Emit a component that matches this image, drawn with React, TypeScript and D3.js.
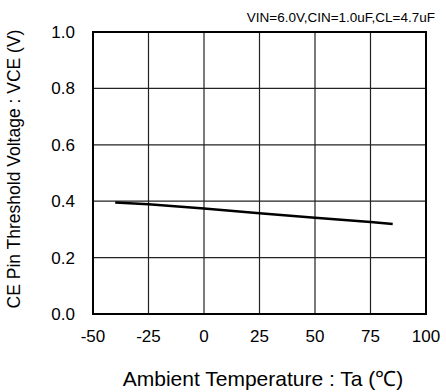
import React from "react";
import * as d3 from "d3";

const temperatures = [-40, -25, 0, 25, 50, 75, 85];
const vceValues = [0.395, 0.389, 0.374, 0.357, 0.341, 0.326, 0.319];
const xTicks = [-50, -25, 0, 25, 50, 75, 100];
const yTicks = [0, 0.2, 0.4, 0.6, 0.8, 1.0];
const conditionText = "VIN=6.0V,CIN=1.0uF,CL=4.7uF";
const xTitle = "Ambient Temperature : Ta (℃)";
const yTitle = "CE Pin Threshold Voltage : VCE (V)";

export default function App() {
  const W = 446, H = 392;
  const left = 93, right = 426, top = 32, bottom = 314;
  const x = d3.scaleLinear().domain([-50, 100]).range([left, right]);
  const y = d3.scaleLinear().domain([0, 1]).range([bottom, top]);
  const line = d3
    .line<number>()
    .x((_, i) => x(temperatures[i]))
    .y((d) => y(d));
  const font = "'Liberation Sans', Arial, sans-serif";
  return (
    <svg
      width={W}
      height={H}
      style={{ position: "absolute", left: 0, top: 0, background: "#fff" }}
      fontFamily={font}
    >
      <rect width={W} height={H} fill="#fff" />
      {xTicks.slice(1, -1).map((t) => (
        <line key={"gx" + t} x1={x(t)} x2={x(t)} y1={top} y2={bottom} stroke="#222" strokeWidth={1.2} />
      ))}
      {yTicks.slice(1, -1).map((t) => (
        <line key={"gy" + t} x1={left} x2={right} y1={y(t)} y2={y(t)} stroke="#222" strokeWidth={1.2} />
      ))}
      <rect x={left} y={top} width={right - left} height={bottom - top} fill="none" stroke="#000" strokeWidth={2} />
      <path d={line(vceValues) || ""} fill="none" stroke="#000" strokeWidth={2.5} />
      {xTicks.map((t) => (
        <text key={"tx" + t} x={x(t)} y={342} textAnchor="middle" fontSize={17} fill="#000">
          {t}
        </text>
      ))}
      {yTicks.map((t) => (
        <text key={"ty" + t} x={75} y={y(t) + 6} textAnchor="end" fontSize={17} fill="#000">
          {t.toFixed(1)}
        </text>
      ))}
      <text x={435} y={22} textAnchor="end" fontSize={13.5} fill="#000">
        {conditionText}
      </text>
      <text x={263} y={386} textAnchor="middle" fontSize={21} fill="#000">
        {xTitle}
      </text>
      <text
        transform={`translate(20, 169) rotate(-90)`}
        textAnchor="middle"
        fontSize={17.5}
        fill="#000"
      >
        {yTitle}
      </text>
    </svg>
  );
}
